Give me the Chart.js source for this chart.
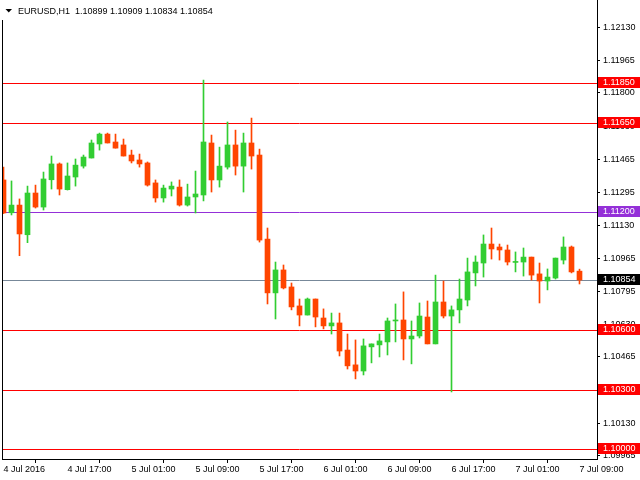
<!DOCTYPE html>
<html>
<head>
<meta charset="utf-8">
<script src="https://cdn.jsdelivr.net/npm/chart.js@4/dist/chart.umd.min.js"></script>
<style>
  html, body { margin: 0; padding: 0; background: #ffffff; }
  canvas { display: block; }
</style>
</head>
<body>
<canvas id="chart" width="640" height="480"></canvas>
<script>
// EURUSD H1, 4 Jul 2016 09:00 .. 7 Jul 2016 09:00 (one entry per hour)
const opens = [
    1.11360, 1.11194, 1.11233, 1.11083, 1.11294, 1.11223, 1.11361, 1.11441, 1.11311, 1.11375,
    1.11430, 1.11471, 1.11542, 1.11592, 1.11552, 1.11537, 1.11486, 1.11461, 1.11446, 1.11345,
    1.11269, 1.11314, 1.11324, 1.11233, 1.11274, 1.11284, 1.11547, 1.11360, 1.11425, 1.11537,
    1.11430, 1.11547, 1.11486, 1.11061, 1.10789, 1.10905, 1.10819, 1.10723, 1.10677, 1.10758,
    1.10662, 1.10622, 1.10637, 1.10500, 1.10425, 1.10394, 1.10516, 1.10526, 1.10541, 1.10647,
    1.10652, 1.10556, 1.10571, 1.10667, 1.10531, 1.10743, 1.10672, 1.10703, 1.10753, 1.10890,
    1.10940, 1.11036, 1.11021, 1.11006, 1.10943, 1.10945, 1.10970, 1.10885, 1.10849, 1.10864,
    1.10955, 1.11021, 1.10899,
];
const highs = [
    1.11425, 1.11355, 1.11264, 1.11329, 1.11334, 1.11400, 1.11481, 1.11446, 1.11446, 1.11466,
    1.11486, 1.11562, 1.11597, 1.11597, 1.11592, 1.11567, 1.11511, 1.11491, 1.11451, 1.11360,
    1.11334, 1.11350, 1.11360, 1.11339, 1.11405, 1.11865, 1.11587, 1.11526, 1.11653, 1.11612,
    1.11597, 1.11673, 1.11516, 1.11117, 1.10945, 1.10930, 1.10839, 1.10758, 1.10763, 1.10758,
    1.10708, 1.10687, 1.10687, 1.10581, 1.10551, 1.10556, 1.10531, 1.10581, 1.10662, 1.10733,
    1.10794, 1.10647, 1.10738, 1.10748, 1.10879, 1.10849, 1.10723, 1.10859, 1.10965, 1.10976,
    1.11082, 1.11117, 1.11036, 1.11031, 1.10996, 1.11016, 1.10970, 1.10940, 1.10910, 1.10965,
    1.11072, 1.11026, 1.10909,
];
const lows = [
    1.11190, 1.11183, 1.10977, 1.11043, 1.11218, 1.11208, 1.11314, 1.11284, 1.11309, 1.11329,
    1.11420, 1.11471, 1.11511, 1.11547, 1.11521, 1.11481, 1.11446, 1.11425, 1.11329, 1.11248,
    1.11248, 1.11279, 1.11228, 1.11228, 1.11193, 1.11254, 1.11299, 1.11324, 1.11415, 1.11385,
    1.11299, 1.11415, 1.11046, 1.10733, 1.10657, 1.10809, 1.10703, 1.10622, 1.10677, 1.10617,
    1.10607, 1.10581, 1.10470, 1.10404, 1.10354, 1.10374, 1.10435, 1.10465, 1.10475, 1.10541,
    1.10450, 1.10430, 1.10561, 1.10531, 1.10531, 1.10662, 1.10288, 1.10637, 1.10723, 1.10824,
    1.10869, 1.10960, 1.10955, 1.10930, 1.10895, 1.10874, 1.10854, 1.10738, 1.10804, 1.10859,
    1.10935, 1.10890, 1.10834,
];
const closes = [
    1.11193, 1.11233, 1.11087, 1.11294, 1.11223, 1.11365, 1.11441, 1.11314, 1.11380, 1.11435,
    1.11476, 1.11547, 1.11592, 1.11547, 1.11521, 1.11481, 1.11456, 1.11441, 1.11334, 1.11269,
    1.11319, 1.11329, 1.11233, 1.11274, 1.11289, 1.11552, 1.11360, 1.11430, 1.11537, 1.11430,
    1.11547, 1.11481, 1.11056, 1.10789, 1.10905, 1.10814, 1.10718, 1.10677, 1.10758, 1.10667,
    1.10622, 1.10637, 1.10495, 1.10420, 1.10394, 1.10521, 1.10531, 1.10546, 1.10647, 1.10652,
    1.10556, 1.10571, 1.10672, 1.10531, 1.10743, 1.10672, 1.10703, 1.10758, 1.10895, 1.10945,
    1.11036, 1.11011, 1.11006, 1.10945, 1.10946, 1.10970, 1.10879, 1.10849, 1.10869, 1.10965,
    1.11021, 1.10895, 1.10854,
];

// time labels, one every 8 bars
const timeTickBars = [0, 8, 16, 24, 32, 40, 48, 56, 64, 72];
const timeTickLabels = [
    '4 Jul 2016', '4 Jul 17:00', '5 Jul 01:00', '5 Jul 09:00', '5 Jul 17:00',
    '6 Jul 01:00', '6 Jul 09:00', '6 Jul 17:00', '7 Jul 01:00', '7 Jul 09:00',
];
const priceTicks = [
    1.12130, 1.11965, 1.11800, 1.11630, 1.11465, 1.11295, 1.11130,
    1.10965, 1.10795, 1.10630, 1.10465, 1.10295, 1.10130, 1.09965,
];

// horizontal lines drawn on the chart
const levels = [1.11850, 1.11650, 1.11200, 1.10854, 1.10600, 1.10300, 1.10000];
const levelLineColors = ['#ff0000', '#ff0000', '#9430d8', '#778899', '#ff0000', '#ff0000', '#ff0000'];
const levelBoxColors = ['#ff0000', '#ff0000', '#9430d8', '#000000', '#ff0000', '#ff0000', '#ff0000'];

const symbolTitle = 'EURUSD,H1  1.10899 1.10909 1.10834 1.10854';

const BULL = '#32cd32';
const BEAR = '#ff4500';
const FONT = "'Liberation Sans', Arial, sans-serif";

const candleColors = closes.map((c, i) => (c >= opens[i] ? BULL : BEAR));

const levelsPlugin = {
    id: 'levels',
    beforeDatasetsDraw(chart) {
        const { ctx, chartArea, scales } = chart;
        ctx.save();
        ctx.lineWidth = 1;
        levels.forEach((lv, i) => {
            const y = Math.round(scales.y.getPixelForValue(lv)) + 0.5;
            ctx.strokeStyle = levelLineColors[i];
            ctx.beginPath();
            ctx.moveTo(chartArea.left, y);
            ctx.lineTo(chartArea.right, y);
            ctx.stroke();
        });
        ctx.restore();
    },
    afterDraw(chart) {
        const { ctx, chartArea, scales } = chart;
        ctx.save();
        // left frame edge
        ctx.strokeStyle = '#000';
        ctx.lineWidth = 1;
        ctx.beginPath();
        ctx.moveTo(chartArea.left + 0.5, 20);
        ctx.lineTo(chartArea.left + 0.5, chartArea.bottom);
        ctx.stroke();

        // price boxes on the right axis
        ctx.font = '9px ' + FONT;
        ctx.textBaseline = 'middle';
        ctx.textAlign = 'left';
        levels.forEach((lv, i) => {
            const y = Math.round(scales.y.getPixelForValue(lv));
            ctx.fillStyle = levelBoxColors[i];
            ctx.fillRect(chartArea.right + 1, y - 6, 640 - chartArea.right - 1, 11);
            ctx.fillStyle = '#ffffff';
            ctx.fillText(lv.toFixed(5), chartArea.right + 6, y - 0.5);
        });

        // symbol line, top left
        ctx.fillStyle = '#000';
        ctx.beginPath();
        ctx.moveTo(5.5, 9);
        ctx.lineTo(12, 9);
        ctx.lineTo(8.75, 12.5);
        ctx.closePath();
        ctx.fill();
        ctx.textBaseline = 'alphabetic';
        ctx.fillText(symbolTitle, 18, 14);
        ctx.restore();
    },
};

new Chart(document.getElementById('chart'), {
    type: 'bar',
    data: {
        datasets: [
            {
                label: 'body',
                data: opens.map((o, i) => ({ x: i, y: [o, closes[i]] })),
                backgroundColor: candleColors,
                barThickness: 5,
                minBarLength: 1,
                grouped: false,
            },
            {
                label: 'wick',
                data: lows.map((l, i) => ({ x: i, y: [l, highs[i]] })),
                backgroundColor: candleColors,
                barThickness: 1,
                grouped: false,
            },
        ],
    },
    options: {
        responsive: false,
        animation: false,
        layout: { padding: { left: 2, top: 0, right: 0, bottom: 0 } },
        plugins: {
            legend: { display: false },
            tooltip: { enabled: false },
        },
        scales: {
            x: {
                type: 'linear',
                bounds: 'data',
                min: -0.1875,
                max: 74.1875,
                offset: false,
                afterBuildTicks: (s) => { s.ticks = timeTickBars.map((v) => ({ value: v })); },
                afterFit: (s) => { s.height = 21; },
                grid: { drawOnChartArea: false, tickLength: 4, color: '#000' },
                border: { color: '#000', width: 1 },
                ticks: {
                    align: 'start',
                    maxRotation: 0,
                    autoSkip: false,
                    padding: 1,
                    color: '#000',
                    font: { family: FONT, size: 9 },
                    callback: (v, i) => timeTickLabels[i],
                },
            },
            y: {
                type: 'linear',
                position: 'right',
                min: 1.09949,
                max: 1.12270,
                afterBuildTicks: (s) => { s.ticks = priceTicks.map((v) => ({ value: v })); },
                afterFit: (s) => {
                    s.width = 43;
                    s.paddingTop = 0;
                    s.paddingBottom = 0;
                },
                grid: { drawOnChartArea: false, tickLength: 3, color: '#000' },
                border: { color: '#000', width: 1 },
                ticks: {
                    autoSkip: false,
                    padding: 3,
                    color: '#000',
                    font: { family: FONT, size: 9 },
                    callback: (v) => v.toFixed(5),
                },
            },
        },
    },
    plugins: [levelsPlugin],
});
</script>
</body>
</html>
